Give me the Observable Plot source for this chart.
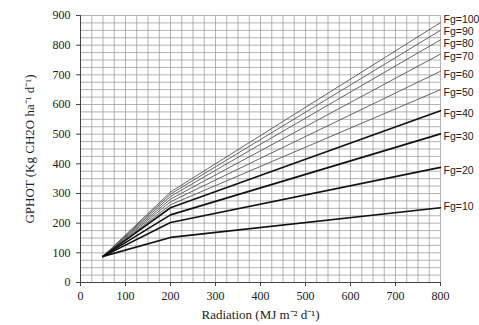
<!DOCTYPE html>
<html>
<head>
<meta charset="utf-8">
<script src="https://cdn.jsdelivr.net/npm/d3@7"></script>
<script src="https://cdn.jsdelivr.net/npm/@observablehq/plot@0.6"></script>
<style>
  html, body { margin: 0; padding: 0; background: #fff; }
</style>
</head>
<body>
<div id="chart"></div>
<script>
// Radiation points (MJ m-2 d-1) at which each curve is defined
const radiation = [50, 200, 800];
// Fg levels
const fgLevels = [10, 20, 30, 40, 50, 60, 70, 80, 90, 100];
// GPHOT values (Kg CH2O ha-1 d-1) for each Fg at the radiation points
const gphotFg10  = [88, 152, 252];
const gphotFg20  = [88, 202, 388];
const gphotFg30  = [88, 228, 501];
const gphotFg40  = [88, 252, 579];
const gphotFg50  = [88, 262, 650];
const gphotFg60  = [88, 272, 712];
const gphotFg70  = [88, 281, 770];
const gphotFg80  = [88, 290, 818];
const gphotFg90  = [88, 298, 850];
const gphotFg100 = [88, 305, 876];
const seriesValues = [gphotFg10, gphotFg20, gphotFg30, gphotFg40, gphotFg50,
                      gphotFg60, gphotFg70, gphotFg80, gphotFg90, gphotFg100];
// Tick labels
const xTicks = [0, 100, 200, 300, 400, 500, 600, 700, 800];
const yTicks = [0, 100, 200, 300, 400, 500, 600, 700, 800, 900];
const xGrid = d3.range(0, 801, 25);
const yGrid = d3.range(0, 901, 25);

const rows = [];
fgLevels.forEach((fg, i) => {
  radiation.forEach((r, j) => rows.push({fg, radiation: r, gphot: seriesValues[i][j]}));
});
const ends = fgLevels.map((fg, i) => ({fg, radiation: radiation[radiation.length - 1], gphot: seriesValues[i][radiation.length - 1]}));

const labelStyle = {x: "radiation", y: "gphot", text: d => "Fg=" + d.fg, textAnchor: "start", dx: 3,
  fontFamily: "'Liberation Sans Narrow', 'Liberation Sans', Arial, sans-serif", fontSize: 10.5, fill: "#222"};

const chart = Plot.plot({
  width: 479,
  height: 325,
  marginLeft: 80,
  marginRight: 39,
  marginTop: 15,
  marginBottom: 43,
  style: {fontFamily: "'Liberation Serif', 'Times New Roman', serif", fontSize: "12px", background: "#fff", color: "#222"},
  x: {domain: [0, 800]},
  y: {domain: [0, 900]},
  marks: [
    Plot.gridX(xGrid, {stroke: "#9a9a9a", strokeOpacity: 1, strokeWidth: 0.75}),
    Plot.gridY(yGrid, {stroke: "#9a9a9a", strokeOpacity: 1, strokeWidth: 0.75}),
    Plot.ruleX([0], {stroke: "#444", strokeWidth: 1}),
    Plot.ruleY([0], {stroke: "#444", strokeWidth: 1}),
    Plot.axisX(xTicks, {tickSize: 4, tickPadding: 5, stroke: "#444", label: null}),
    Plot.axisY(yTicks, {tickSize: 4, tickPadding: 6, stroke: "#444", label: null}),
    Plot.axisX([], {label: "Radiation (MJ m⁻² d⁻¹)", labelAnchor: "center", labelOffset: 36, labelArrow: "none", fontSize: 13, dx: -13}),
    Plot.axisY([], {label: "GPHOT (Kg CH2O ha⁻¹ d⁻¹)", labelAnchor: "center", labelOffset: 56, labelArrow: "none", fontSize: 13, dy: 5}),
    Plot.line(rows.filter(d => d.fg > 40), {x: "radiation", y: "gphot", z: "fg", stroke: "#555", strokeWidth: 0.9}),
    Plot.line(rows.filter(d => d.fg <= 40), {x: "radiation", y: "gphot", z: "fg", stroke: "#111", strokeWidth: 1.6}),
    Plot.text(ends.filter(d => d.fg === 100), {...labelStyle, dy: -2.5}),
    Plot.text(ends.filter(d => d.fg === 90), {...labelStyle, dy: 1}),
    Plot.text(ends.filter(d => d.fg === 80), {...labelStyle, dy: 3.5}),
    Plot.text(ends.filter(d => d.fg === 10), {...labelStyle, dy: -1}),
    Plot.text(ends.filter(d => d.fg > 10 && d.fg < 80), {...labelStyle, dy: 3})
  ]
});
document.getElementById("chart").appendChild(chart);
</script>
</body>
</html>
